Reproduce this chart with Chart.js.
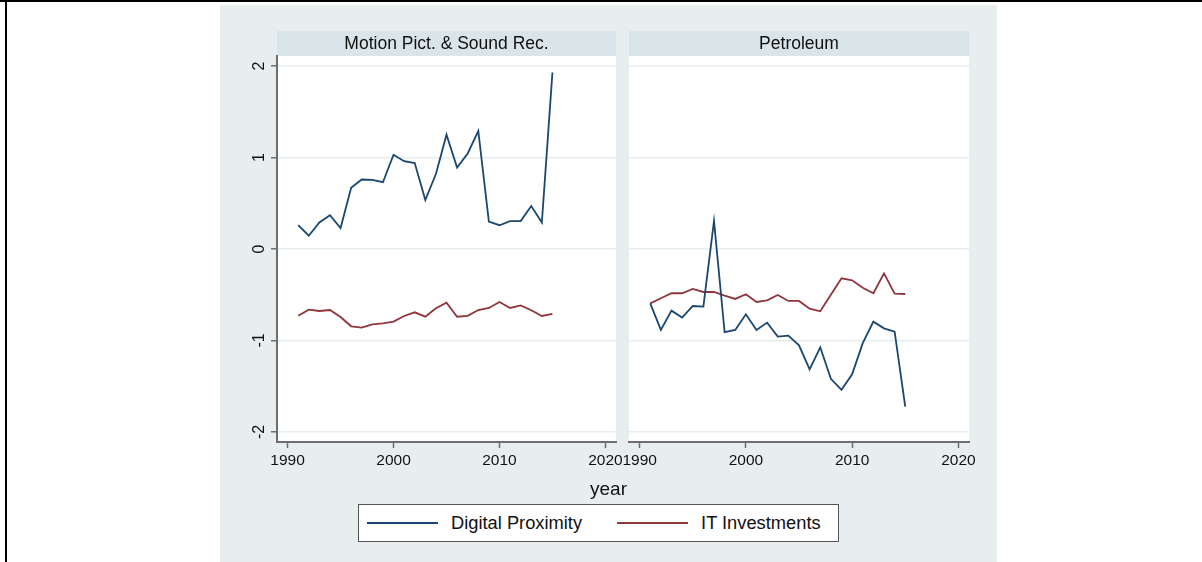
<!DOCTYPE html>
<html lang="en">
<head>
    <meta charset="UTF-8">
    <title>Digital Proximity and IT Investments</title>
    <script src="https://cdn.jsdelivr.net/npm/chart.js"></script>
    <style>
        body{margin:0;background:#fff;width:1202px;height:562px;overflow:hidden;position:relative;font-family:"Liberation Sans",Arial,sans-serif}
        #topline{position:absolute;left:0;top:0;width:1202px;height:2px;background:#000}
        #leftline{position:absolute;left:5px;top:0;width:2px;height:562px;background:#000}
        #region{position:absolute;left:220px;top:5px;width:777px;height:557px;background:#e8eef0}
        canvas{position:absolute}
        #xtitle{position:absolute;left:220px;width:777px;top:478px;text-align:center;font-size:19px;color:#111}
        #legend{position:absolute;left:358px;top:504px;width:479px;height:36px;border:1px solid #555;background:#fff;display:flex;align-items:center;font-size:18.3px;color:#111}
        .sw{display:inline-block;width:71px;height:2px}
    </style>
</head>
<body>
    <div id="topline"></div>
    <div id="leftline"></div>
    <div id="region"></div>
    <canvas id="motionChart" width="420" height="449" style="left:220px;top:31px"></canvas>
    <canvas id="petroChart" width="400" height="449" style="left:600px;top:31px"></canvas>
    <div id="xtitle">year</div>
    <div id="legend"></div>
<script>
    const years=[1991,1992,1993,1994,1995,1996,1997,1998,1999,2000,2001,2002,2003,2004,2005,2006,2007,2008,2009,2010,2011,2012,2013,2014,2015]
    const panelTitles=["Motion Pict. & Sound Rec.","Petroleum"]
    const seriesNames=["Digital Proximity","IT Investments"]
    const seriesColors=["#1a476f","#90353b"]
    const motionDigital=[0.26,0.145,0.29,0.37,0.23,0.67,0.76,0.755,0.73,1.03,0.96,0.94,0.535,0.82,1.25,0.89,1.045,1.29,0.30,0.26,0.305,0.305,0.47,0.29,1.93]
    const motionIT=[-0.73,-0.663,-0.678,-0.667,-0.743,-0.845,-0.86,-0.823,-0.812,-0.794,-0.732,-0.692,-0.74,-0.648,-0.587,-0.74,-0.73,-0.667,-0.645,-0.58,-0.645,-0.616,-0.67,-0.732,-0.71]
    const petroDigital=[-0.594,-0.885,-0.674,-0.75,-0.623,-0.63,0.306,-0.91,-0.885,-0.714,-0.885,-0.805,-0.958,-0.947,-1.053,-1.315,-1.075,-1.42,-1.54,-1.37,-1.03,-0.794,-0.867,-0.903,-1.723]
    const petroIT=[-0.594,-0.539,-0.484,-0.484,-0.437,-0.47,-0.47,-0.51,-0.546,-0.495,-0.579,-0.561,-0.503,-0.568,-0.568,-0.652,-0.681,-0.499,-0.32,-0.342,-0.423,-0.484,-0.266,-0.488,-0.492]

    const font="'Liberation Sans', Arial, sans-serif"
    const axisGray="#6e6e6e"

    // white plot area + header strip above it
    const panelBg={
        id:"panelBg",
        beforeDraw(chart){
            const {ctx,chartArea:a}=chart
            ctx.save()
            ctx.fillStyle="#ffffff"
            ctx.fillRect(a.left,a.top,a.right-a.left,a.bottom-a.top)
            ctx.fillStyle="#d9e5e8"
            ctx.fillRect(a.left,a.top-25,a.right-a.left,25)
            ctx.restore()
        }
    }

    function toPoints(vals){
        return years.map((y,i)=>({x:y,y:vals[i]}))
    }

    function makePanel(id,title,digital,it,showY,pad){
        const ctx=document.getElementById(id).getContext("2d")
        return new Chart(ctx,{
            type:"line",
            data:{
                datasets:[
                    {label:seriesNames[0],data:toPoints(digital),borderColor:seriesColors[0],borderWidth:1.8,pointRadius:0,tension:0,fill:false},
                    {label:seriesNames[1],data:toPoints(it),borderColor:seriesColors[1],borderWidth:1.8,pointRadius:0,tension:0,fill:false}
                ]
            },
            options:{
                responsive:false,
                animation:false,
                layout:{padding:pad},
                plugins:{
                    legend:{display:false},
                    tooltip:{enabled:false},
                    title:{
                        display:true,
                        text:title,
                        fullSize:false,
                        color:"#111",
                        font:{family:font,size:17.5,weight:"normal"},
                        padding:{top:3,bottom:1}
                    }
                },
                scales:{
                    x:{
                        type:"linear",
                        min:1989,
                        max:2021,
                        grid:{drawOnChartArea:false,drawTicks:true,tickLength:6,tickColor:axisGray,tickWidth:1.5},
                        border:{display:true,color:axisGray,width:2},
                        ticks:{stepSize:10,includeBounds:false,padding:3,color:"#111",maxRotation:0,font:{family:font,size:15.5},callback:v=>String(v)},
                        afterFit(s){s.height=38}
                    },
                    y:{
                        min:-2.11,
                        max:2.11,
                        grid:{color:"#e6eef0",lineWidth:1.5,drawTicks:showY,tickLength:6,tickColor:axisGray,tickWidth:1.5},
                        border:{display:showY,color:axisGray,width:2},
                        ticks:{display:showY,stepSize:1,includeBounds:false,padding:4,crossAlign:"center",minRotation:90,maxRotation:90,color:"#111",font:{family:font,size:16},callback:v=>String(v)},
                        afterFit(s){s.width=showY?57:0}
                    }
                }
            },
            plugins:[panelBg]
        })
    }

    const left=makePanel("motionChart",panelTitles[0],motionDigital,motionIT,true,{top:0,right:24,bottom:0,left:0})
    makePanel("petroChart",panelTitles[1],petroDigital,petroIT,false,{top:0,right:31,bottom:0,left:29})

    // html legend built from the chart's datasets
    const legend=document.getElementById("legend")
    left.data.datasets.forEach((ds,i)=>{
        const sw=document.createElement("span")
        sw.className="sw"
        sw.style.background=ds.borderColor
        sw.style.marginLeft=i==0?"8px":"35px"
        sw.style.marginRight="13px"
        const t=document.createElement("span")
        t.textContent=ds.label
        legend.appendChild(sw)
        legend.appendChild(t)
    })
</script>
</body>
</html>
